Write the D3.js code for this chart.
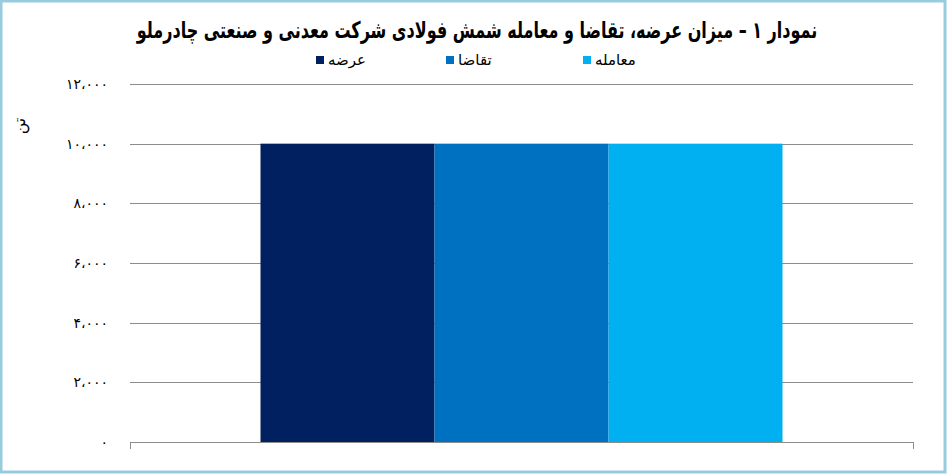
<!DOCTYPE html>
<html>
<head>
<meta charset="utf-8">
<script src="https://cdn.jsdelivr.net/npm/d3@7"></script>
<style>
  html, body { margin: 0; padding: 0; background: #fff; }
  svg { display: block; }
  text { font-family: "DejaVu Sans", sans-serif; }
</style>
</head>
<body>
<svg id="chart" width="947" height="474"></svg>
<script>
// ---- data ----
const categories = ["شمش فولادی"];
const seriesNames = ["عرضه", "تقاضا", "معامله"];
const seriesValues = [10000, 10000, 10000];
const seriesColors = ["#002060", "#0070C0", "#00B0F0"];
const yTicks = [0, 2000, 4000, 6000, 8000, 10000, 12000];
const yTickLabels = ["۰", "۲،۰۰۰", "۴،۰۰۰", "۶،۰۰۰", "۸،۰۰۰", "۱۰،۰۰۰", "۱۲،۰۰۰"];
const titleText = "نمودار ۱ – میزان عرضه، تقاضا و معامله شمش فولادی شرکت معدنی و صنعتی چادرملو";
const yUnit = "تن";

const W = 947, H = 474;
const svg = d3.select("#chart");

// frame
svg.append("rect").attr("x", 1).attr("y", 1).attr("width", W - 3).attr("height", H - 3)
  .attr("fill", "#fff").attr("stroke", "#96CCDD").attr("stroke-width", 3);

const plot = { left: 130, right: 913, top: 84, bottom: 442 };

const x = d3.scaleBand().domain(categories).range([plot.left, plot.right])
  .paddingInner(1/3).paddingOuter(1/6);
const xs = d3.scaleBand().domain(seriesNames).range([0, x.bandwidth()]).padding(0);
const y = d3.scaleLinear().domain([0, 12000]).range([plot.bottom, plot.top]);

// gridlines
svg.append("g").selectAll("line").data(yTicks.filter(d => d > 0)).join("line")
  .attr("x1", plot.left).attr("x2", plot.right)
  .attr("y1", d => Math.round(y(d)) + 0.5).attr("y2", d => Math.round(y(d)) + 0.5)
  .attr("stroke", "#8c8c8c").attr("stroke-width", 1);

// y tick labels
svg.append("g").selectAll("text").data(yTicks).join("text")
  .attr("x", 108).attr("y", d => y(d) + 5)
  .attr("text-anchor", "end").attr("font-size", 14).attr("fill", "#000")
  .text((d, i) => yTickLabels[i]);

// bars
const bars = svg.append("g");
categories.forEach(cat => {
  bars.selectAll("rect.b").data(seriesNames).join("rect").attr("class", "b")
    .attr("x", s => x(cat) + xs(s))
    .attr("width", xs.bandwidth())
    .attr("y", (s, i) => y(seriesValues[i]))
    .attr("height", (s, i) => y(0) - y(seriesValues[i]))
    .attr("fill", (s, i) => seriesColors[i]);
});

// x axis
const xAxis = svg.append("g");
xAxis.append("line").attr("x1", plot.left).attr("x2", plot.right)
  .attr("y1", plot.bottom + 0.5).attr("y2", plot.bottom + 0.5)
  .attr("stroke", "#8c8c8c");
[plot.left, plot.right].forEach(px => {
  xAxis.append("line").attr("x1", px + 0.5).attr("x2", px + 0.5)
    .attr("y1", plot.bottom).attr("y2", plot.bottom + 7).attr("stroke", "#8c8c8c");
});

// title (compressed horizontally to the reference width)
const title = svg.append("text").attr("x", 0).attr("y", 0).attr("text-anchor", "middle")
  .attr("font-size", 23).attr("font-weight", "bold").attr("fill", "#000")
  .text(titleText);
const tw = title.node().getComputedTextLength();
const sx = Math.min(1, 681 / tw);
title.attr("transform", `translate(477,38) scale(${sx},1)`);

// legend
const legendX = [316, 446, 583];
const lg = svg.append("g");
seriesNames.forEach((s, i) => {
  lg.append("rect").attr("x", legendX[i]).attr("y", 56).attr("width", 8).attr("height", 8)
    .attr("fill", seriesColors[i]);
  lg.append("text").attr("x", legendX[i] + 12).attr("y", 65)
    .attr("text-anchor", "start").attr("font-size", 15).attr("fill", "#000")
    .text(s);
});

// y unit label
svg.append("text").attr("transform", "translate(25,126) rotate(-90)")
  .attr("text-anchor", "middle").attr("font-size", 16).attr("fill", "#000")
  .text(yUnit);
</script>
</body>
</html>
